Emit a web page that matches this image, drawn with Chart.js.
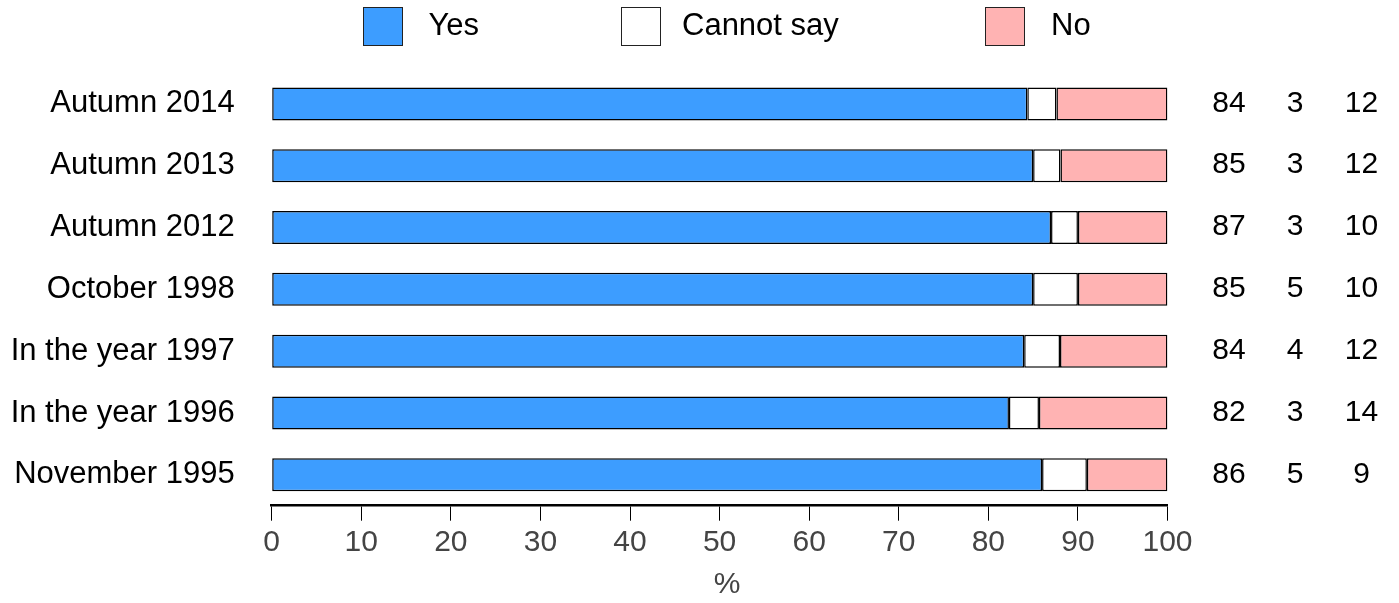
<!DOCTYPE html>
<html>
<head>
<meta charset="utf-8">
<script src="https://cdn.jsdelivr.net/npm/chart.js@4"></script>
<style>
html,body{margin:0;padding:0;background:#fff;}
#wrap{width:1399px;height:603px;position:relative;}
</style>
</head>
<body>
<div id="wrap"><canvas id="c" width="1399" height="603"></canvas></div>
<script>
const categories = ["Autumn 2014", "Autumn 2013", "Autumn 2012", "October 1998", "In the year 1997", "In the year 1996", "November 1995"];
const seriesNames = ["Yes", "Cannot say", "No"];
const yesValues = [84.35, 85, 87, 85, 84, 82.3, 86];
const cannotSayValues = [3.25, 3.05, 3, 5, 4, 3.35, 5];
const noValues = [12.4, 11.95, 10, 10, 12, 14.35, 9];
const yesLabels = ["84", "85", "87", "85", "84", "82", "86"];
const cannotSayLabels = ["3", "3", "3", "5", "4", "3", "5"];
const noLabels = ["12", "12", "10", "10", "12", "14", "9"];
const xTicks = [0, 10, 20, 30, 40, 50, 60, 70, 80, 90, 100];
const axisTitle = "%";

const colors = ["#3d9dff", "#ffffff", "#ffb3b3"];
const FONT = "'Liberation Sans', Arial, sans-serif";

const legendPlugin = {
  id: 'customLegend',
  afterDraw(chart) {
    const ctx = chart.ctx;
    const boxes = [363.5, 621.5, 985.5];
    const texts = [428.5, 682, 1051];
    ctx.save();
    ctx.font = "31px " + FONT;
    ctx.textBaseline = 'alphabetic';
    ctx.textAlign = 'left';
    chart.data.datasets.forEach((ds, i) => {
      ctx.fillStyle = ds.backgroundColor;
      ctx.fillRect(boxes[i], 7.5, 39, 38);
      ctx.strokeStyle = '#222';
      ctx.lineWidth = 1;
      ctx.strokeRect(boxes[i], 7.5, 39, 38);
      ctx.fillStyle = '#000';
      ctx.fillText(ds.label, texts[i], 35);
    });
    ctx.restore();
  }
};

const valueLabelsPlugin = {
  id: 'valueLabels',
  afterDraw(chart) {
    const ctx = chart.ctx;
    const ys = chart.scales.y;
    const cols = [1229, 1295, 1361.5];
    const sets = [yesLabels, cannotSayLabels, noLabels];
    ctx.save();
    ctx.font = "30px " + FONT;
    ctx.fillStyle = '#000';
    ctx.textAlign = 'center';
    ctx.textBaseline = 'middle';
    categories.forEach((c, i) => {
      const y = ys.getPixelForValue(i);
      sets.forEach((s, j) => ctx.fillText(s[i], cols[j], y - 0.5));
    });
    ctx.restore();
  }
};

const datasets = [yesValues, cannotSayValues, noValues].map((vals, i) => ({
  label: seriesNames[i],
  data: vals,
  backgroundColor: colors[i],
  borderColor: '#000',
  borderWidth: 1.5,
  borderSkipped: false,
  barPercentage: 0.534,
  categoryPercentage: 1.0
}));

new Chart(document.getElementById('c'), {
  type: 'bar',
  data: { labels: categories, datasets: datasets },
  options: {
    indexAxis: 'y',
    responsive: false,
    devicePixelRatio: 1,
    animation: false,
    layout: { padding: { top: 73, right: 231.5, bottom: 0, left: 0 } },
    plugins: { legend: { display: false }, tooltip: { enabled: false } },
    scales: {
      x: {
        stacked: true,
        min: 0,
        max: 100,
        afterBuildTicks(scale) { scale.ticks = xTicks.map(v => ({ value: v })); },
        ticks: { font: { size: 30, family: FONT }, color: '#444', padding: 4, maxRotation: 0 },
        grid: { display: true, drawOnChartArea: false, drawTicks: true, tickLength: 15, color: '#000', lineWidth: 1 },
        border: { display: true, color: '#000', width: 2.5 },
        title: { display: true, text: '\u2002' + axisTitle, font: { size: 30, family: FONT }, color: '#444', padding: { top: 0, bottom: 0 } },
        afterFit(scale) { scale.height = 97.3; }
      },
      y: {
        stacked: true,
        ticks: { font: { size: 31, family: FONT }, color: '#000', padding: 37 },
        grid: { display: false, drawTicks: false },
        border: { display: false },
        afterFit(scale) { scale.width = 271.7; }
      }
    }
  },
  plugins: [legendPlugin, valueLabelsPlugin]
});
</script>
</body>
</html>
